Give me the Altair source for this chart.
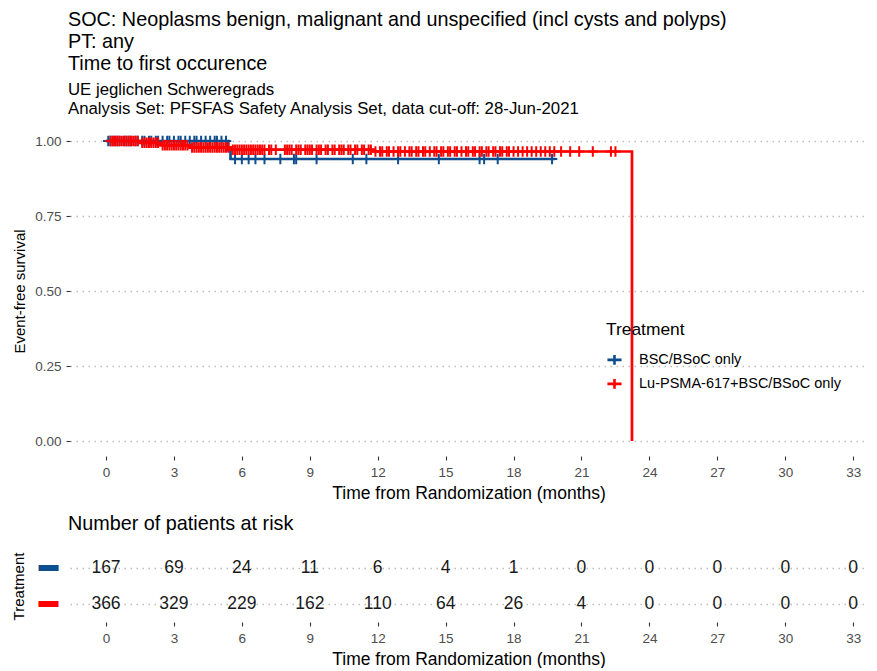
import altair as alt
import pandas as pd

# ---------------- data ----------------
arms = ["BSC/BSoC only", "Lu-PSMA-617+BSC/BSoC only"]
arm_colors = ["#0E4E8E", "#FF0000"]

# Kaplan-Meier step points (months, event-free survival)
bsc_t = [0.0, 5.4, 5.5, 19.85]
bsc_s = [1.0, 0.97, 0.94, 0.94]
lu_t = [0.0, 1.5, 2.4, 3.7, 5.5, 11.8, 23.23, 23.23]
lu_s = [1.0, 0.994, 0.986, 0.978, 0.971, 0.965, 0.965, 0.0]

# censoring times (months)
bsc_cens = [0.1, 0.2, 0.3, 0.4, 0.5, 0.6, 0.8, 0.9, 1.0, 1.1, 1.3, 1.4, 1.6, 1.7,
            1.9, 2.0, 2.2, 2.3, 2.5, 2.7, 2.8, 3.0, 3.2, 3.3, 3.5, 3.7, 3.9, 4.0,
            4.2, 4.4, 4.6, 4.8, 4.9, 5.1, 5.3, 5.7, 6.0, 6.3, 6.6, 7.0, 7.7, 8.3,
            8.4, 9.3, 10.9, 11.5, 12.9, 14.7, 16.5, 16.7, 17.3, 19.7]
lu_cens = [0.2, 0.3, 0.4, 0.5, 0.6, 0.7, 0.8, 0.9, 1.0, 1.1, 1.2, 1.3, 1.4, 1.6,
           1.7, 1.8, 1.9, 2.0, 2.1, 2.2, 2.3, 2.5, 2.6, 2.7, 2.8, 2.9, 3.0, 3.1,
           3.2, 3.3, 3.4, 3.5, 3.6, 3.8, 3.9, 4.0, 4.1, 4.2, 4.3, 4.4, 4.5, 4.6,
           4.7, 4.8, 4.9, 5.0, 5.1, 5.2, 5.3, 5.4, 5.6, 5.7, 5.8, 5.9, 6.0, 6.1,
           6.2, 6.3, 6.4, 6.5, 6.6, 6.7, 6.8, 6.9, 7.0, 7.2, 7.3, 7.5, 7.9, 8.0,
           8.1, 8.2, 8.4, 8.5, 8.6, 8.8, 8.9, 9.0, 9.1, 9.3, 9.4, 9.5, 9.7, 9.8,
           10.0, 10.1, 10.3, 10.4, 10.5, 10.7, 10.8, 11.0, 11.1, 11.3, 11.4, 11.6,
           11.7, 11.9, 12.1, 12.2, 12.4, 12.5, 12.7, 12.9, 13.0, 13.2, 13.4, 13.5,
           13.7, 13.8, 14.0, 14.1, 14.3, 14.5, 14.6, 14.8, 14.9, 15.1, 15.2, 15.4,
           15.5, 15.7, 15.9, 16.0, 16.2, 16.3, 16.5, 16.6, 16.8, 16.9, 17.1, 17.2,
           17.4, 17.5, 17.7, 17.8, 18.0, 18.2, 18.4, 18.6, 18.8, 19.0, 19.2, 19.4,
           19.6, 19.8, 20.1, 20.5, 20.9, 21.5, 22.3, 22.5]

# numbers at risk
risk_times = [0, 3, 6, 9, 12, 15, 18, 21, 24, 27, 30, 33]
bsc_risk = [167, 69, 24, 11, 6, 4, 1, 0, 0, 0, 0, 0]
lu_risk = [366, 329, 229, 162, 110, 64, 26, 4, 0, 0, 0, 0]

title_lines = ["SOC: Neoplasms benign, malignant and unspecified (incl cysts and polyps)",
               "PT: any",
               "Time to first occurence"]
subtitle_lines = ["UE jeglichen Schweregrads",
                  "Analysis Set: PFSFAS Safety Analysis Set, data cut-off: 28-Jun-2021"]
x_ticks = list(range(0, 34, 3))
y_ticks = [0.0, 0.25, 0.5, 0.75, 1.0]

# ---------------- tables ----------------
def surv_at(ts, ss, c):
    v = ss[0]
    for t, s in zip(ts, ss):
        if t <= c:
            v = s
    return v

rows = []
for arm, ts, ss in [(arms[0], bsc_t, bsc_s), (arms[1], lu_t, lu_s)]:
    for i, (t, s) in enumerate(zip(ts, ss)):
        rows.append({"arm": arm, "t": t, "s": s, "i": i})
curve_df = pd.DataFrame(rows)

crows = []
for c in bsc_cens:
    crows.append({"arm": arms[0], "t": c, "s": surv_at(bsc_t[:-1], bsc_s[:-1], c)})
for c in lu_cens:
    crows.append({"arm": arms[1], "t": c, "s": surv_at(lu_t[:-2], lu_s[:-2], c)})
cens_df = pd.DataFrame(crows)

rrows = []
for t, a, b in zip(risk_times, bsc_risk, lu_risk):
    rrows.append({"arm": arms[0], "t": t, "n": a})
    rrows.append({"arm": arms[1], "t": t, "n": b})
risk_df = pd.DataFrame(rrows)

# ---------------- chart ----------------
FONT = "Liberation Sans"
X_DOMAIN = [-1.59, 33.61]
W = 797
GRID_DASH = [1.5, 4.5]
GRID_COLOR = "#BDBDBD"

def x_axis():
    return alt.Axis(values=x_ticks, title="Time from Randomization (months)", grid=False,
                    domain=False, tickSize=4, tickColor="#333333", tickWidth=1.1,
                    labelColor="#4D4D4D", labelFontSize=13.5, labelPadding=5,
                    titleFontSize=17.5, titleFontWeight="normal", titleColor="black",
                    titlePadding=6, labelFont=FONT, titleFont=FONT)

color_enc = alt.Color("arm:N", scale=alt.Scale(domain=arms, range=arm_colors),
                      legend=alt.Legend(title="Treatment", orient="none",
                                        legendX=536, legendY=195,
                                        symbolType="M-1,0H1M0,-0.7V0.7",
                                        symbolSize=200, symbolStrokeWidth=2.6,
                                        labelFontSize=14.5, titleFontSize=17.4,
                                        titleFontWeight="normal", labelColor="black",
                                        titleColor="black", rowPadding=3,
                                        titlePadding=13, labelOffset=16, labelLimit=0,
                                        labelFont=FONT, titleFont=FONT))

y_scale = alt.Scale(domain=[-0.05, 1.05], nice=False, zero=False)
y_axis = alt.Axis(values=y_ticks, format=".2f", title="Event-free survival",
                  domain=False, tickSize=4, tickColor="#333333", tickWidth=1.1,
                  labelColor="#4D4D4D", labelFontSize=13.5, labelPadding=5,
                  grid=True, gridDash=GRID_DASH, gridColor=GRID_COLOR, gridWidth=1.4,
                  titleFontSize=15, titleFontWeight="normal", titleColor="black",
                  titlePadding=7, labelFont=FONT, titleFont=FONT)
x_scale = alt.Scale(domain=X_DOMAIN, nice=False, zero=False)

lines = alt.Chart(curve_df).mark_line(interpolate="step-after", strokeWidth=2.7).encode(
    x=alt.X("t:Q", scale=x_scale, axis=x_axis()),
    y=alt.Y("s:Q", scale=y_scale, axis=y_axis),
    color=color_enc,
    order=alt.Order("i:Q"),
)

cens = alt.Chart(cens_df).mark_point(shape="M-1,0H1M0,-1V1", size=110, filled=False,
                                     strokeWidth=2.0, opacity=1).encode(
    x=alt.X("t:Q", scale=x_scale, axis=x_axis()),
    y=alt.Y("s:Q", scale=y_scale, axis=y_axis),
    color=color_enc,
)

km = alt.layer(lines, cens).properties(
    width=W, height=330,
    title=alt.TitleParams(text=title_lines, subtitle=subtitle_lines, anchor="start",
                          frame="group", fontSize=19.8, subtitleFontSize=16.8,
                          fontWeight="normal", lineHeight=22, subtitleLineHeight=19,
                          subtitlePadding=8, offset=8, color="black",
                          subtitleColor="black", font=FONT, subtitleFont=FONT, dx=-2),
)

label_color = {"condition": {"test": "datum.value == '%s'" % arms[0], "value": arm_colors[0]},
               "value": arm_colors[1]}

table = alt.Chart(risk_df).mark_text(fontSize=17.5, color="#1A1A1A", font=FONT).encode(
    x=alt.X("t:Q", scale=x_scale, axis=x_axis()),
    y=alt.Y("arm:N", scale=alt.Scale(type="point", domain=arms, padding=0.5),
            axis=alt.Axis(title="Treatment", grid=True, gridDash=GRID_DASH,
                          gridColor=GRID_COLOR, gridWidth=1.4, labelExpr="'▬'",
                          labelColor=label_color, labelFontSize=20, ticks=False,
                          domain=False, labelPadding=12, labelOffset=-4,
                          titleFontSize=15, titleFontWeight="normal", titleColor="black",
                          titlePadding=12, labelFont=FONT, titleFont=FONT)),
    text="n:Q",
).properties(
    width=W, height=72,
    title=alt.TitleParams("Number of patients at risk", anchor="start", frame="group",
                          fontSize=19.8, fontWeight="normal", color="black", font=FONT,
                          offset=16, dx=-2),
)

chart = alt.vconcat(km, table, spacing=12).properties(
    padding={"left": 3, "top": 2, "right": 0, "bottom": 0}
).configure(font=FONT).configure_view(stroke=None)

chart.save("out.html", embed_options={"renderer": "svg", "actions": False})
